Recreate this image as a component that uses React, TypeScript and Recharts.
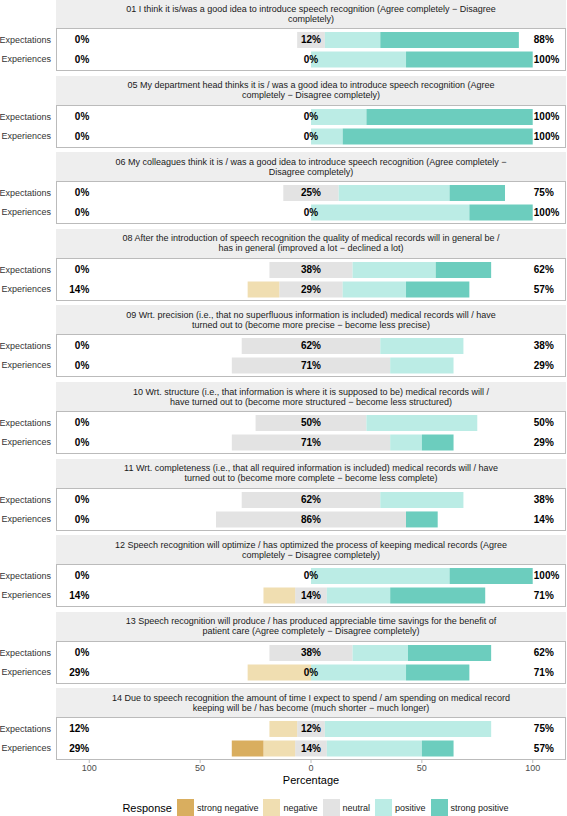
import React from 'react';
import { BarChart, Bar, XAxis, YAxis, CartesianGrid, ReferenceDot } from 'recharts';

const titleLine1 = [
  '01 I think it is/was a good idea to introduce speech recognition (Agree completely \u2212 Disagree',
  '05 My department head thinks it is / was a good idea to introduce speech recognition (Agree',
  '06 My colleagues think it is / was a good idea to introduce speech recognition (Agree completely \u2212',
  '08 After the introduction of speech recognition the quality of medical records will in general be /',
  '09 Wrt. precision (i.e., that no superfluous information is included) medical records will / have',
  '10 Wrt. structure (i.e., that information is where it is supposed to be) medical records will /',
  '11 Wrt. completeness (i.e., that all required information is included) medical records will / have',
  '12 Speech recognition will optimize / has optimized the process of keeping medical records (Agree',
  '13 Speech recognition will produce / has produced appreciable time savings for the benefit of',
  '14 Due to speech recognition the amount of time I expect to spend / am spending on medical record',
];
const titleLine2 = [
  'completely)',
  'completely \u2212 Disagree completely)',
  'Disagree completely)',
  'has in general (improved a lot \u2212 declined a lot)',
  'turned out to (become more precise \u2212 become less precise)',
  'have turned out to (become more structured \u2212 become less structured)',
  'turned out to (become more complete \u2212 become less complete)',
  'completely \u2212 Disagree completely)',
  'patient care (Agree completely \u2212 Disagree completely)',
  'keeping will be / has become (much shorter \u2212 much longer)',
];

const groups = ['Expectations', 'Experiences'];
const responses = ['strong negative', 'negative', 'neutral', 'positive', 'strong positive'];
const colors = ['#D9AE5F', '#F0DEB1', '#E3E3E3', '#BBECE5', '#6CCDBE'];
const xTicks = [-100, -50, 0, 50, 100];
const zeroLine = [0];

// Expectations (percent)
const expectStrongNeg = [0, 0, 0, 0, 0, 0, 0, 0, 0, 0];
const expectNeg = [0, 0, 0, 0, 0, 0, 0, 0, 0, 12.5];
const expectNeutral = [12.5, 0, 25, 37.5, 62.5, 50, 62.5, 0, 37.5, 12.5];
const expectPos = [25, 25, 50, 37.5, 37.5, 50, 37.5, 62.5, 25, 75];
const expectStrongPos = [62.5, 75, 25, 25, 0, 0, 0, 37.5, 37.5, 0];

// Experiences (percent)
const experStrongNeg = [0, 0, 0, 0, 0, 0, 0, 0, 0, 14.29];
const experNeg = [0, 0, 0, 14.29, 0, 0, 0, 14.29, 28.57, 14.29];
const experNeutral = [0, 0, 0, 28.57, 71.43, 71.43, 85.71, 14.29, 0, 14.29];
const experPos = [42.86, 14.29, 71.43, 28.57, 28.57, 14.29, 0, 28.57, 42.86, 42.86];
const experStrongPos = [57.14, 85.71, 28.57, 28.57, 0, 14.29, 14.29, 42.86, 28.57, 14.29];

const LOW_LABEL_AT = -100;
const MID_LABEL_AT = 0;
const HIGH_LABEL_AT = 100.5;

const FONT = '"Liberation Sans", Arial, Helvetica, sans-serif';
const STEP = 76.6;
const TOP0 = -1;
const STRIP_H = 29;
const PANEL_H = 43;
const PANEL_L = 56;
const PANEL_W = 510;
const AXIS_H = 20;
const PAD = 2;

function roundHalfEven(v: number): number {
  const r = Math.round(v * 1000) / 1000;
  const f = Math.floor(r);
  if (Math.abs(r - f - 0.5) < 1e-9) return f % 2 === 0 ? f : f + 1;
  return Math.round(r);
}
const pct = (v: number) => `${roundHalfEven(v)}%`;

function makeRow(group: string, sn: number, n: number, neu: number, p: number, sp: number) {
  return {
    group,
    neuLow: -neu / 2,
    neg: -n,
    strongNeg: -sn,
    neuHigh: neu / 2,
    pos: p,
    strongPos: sp,
    low: pct(sn + n),
    mid: pct(neu),
    high: pct(p + sp),
  };
}

function rowsFor(i: number) {
  return [
    makeRow(groups[0], expectStrongNeg[i], expectNeg[i], expectNeutral[i], expectPos[i], expectStrongPos[i]),
    makeRow(groups[1], experStrongNeg[i], experNeg[i], experNeutral[i], experPos[i], experStrongPos[i]),
  ];
}

const textShape = (text: string, anchor: 'start' | 'middle' | 'end') => (props: any) => (
  <text
    x={props.cx}
    y={props.cy}
    dy="0.35em"
    textAnchor={anchor}
    fontSize={10}
    fontWeight="bold"
    fontFamily={FONT}
    fill="#000"
  >
    {text}
  </text>
);

const zeroGenerator = (args: any) => {
  const ax = args && args.xAxis;
  if (!ax || typeof ax.scale !== 'function') return [];
  return zeroLine.map((v) => ax.scale(v));
};

function Facet({ index }: { index: number }) {
  const rows = rowsFor(index);
  const isLast = index === titleLine1.length - 1;
  const top = TOP0 + index * STEP;
  const bottomPad = isLast ? PAD : STEP - STRIP_H - PANEL_H + PAD;
  const chartH = isLast ? STRIP_H + PANEL_H + AXIS_H : STEP;
  return (
    <div style={{ position: 'absolute', left: 0, top, width: 567 }}>
      <div style={{ position: 'absolute', left: 0, top: 0 }}>
        <BarChart
          width={567}
          height={chartH}
          data={rows}
          layout="vertical"
          stackOffset="sign"
          barCategoryGap="10%"
          margin={{ top: 0, right: 1, bottom: 0, left: 0 }}
        >
          <CartesianGrid
            horizontal={false}
            vertical
            stroke="#1A1A1A"
            strokeWidth={1}
            verticalCoordinatesGenerator={zeroGenerator}
          />
          <XAxis
            type="number"
            domain={[-115, 115]}
            ticks={xTicks}
            allowDataOverflow
            hide={!isLast}
            height={AXIS_H}
            axisLine={false}
            tickSize={3}
            tickMargin={2}
            tickLine={{ stroke: '#BBBBBB' }}
            tick={{ fontSize: 9, fill: '#4D4D4D', fontFamily: FONT }}
            tickFormatter={(v: number) => String(Math.abs(v))}
          />
          <YAxis
            type="category"
            dataKey="group"
            width={PANEL_L}
            axisLine={false}
            tickLine={false}
            tickSize={0}
            tickMargin={5}
            padding={{ top: STRIP_H + PAD, bottom: bottomPad }}
            tick={{ fontSize: 9, fill: '#333333', fontFamily: FONT }}
          />
          <Bar dataKey="neuLow" stackId="s" fill={colors[2]} isAnimationActive={false} />
          <Bar dataKey="neg" stackId="s" fill={colors[1]} isAnimationActive={false} />
          <Bar dataKey="strongNeg" stackId="s" fill={colors[0]} isAnimationActive={false} />
          <Bar dataKey="neuHigh" stackId="s" fill={colors[2]} isAnimationActive={false} />
          <Bar dataKey="pos" stackId="s" fill={colors[3]} isAnimationActive={false} />
          <Bar dataKey="strongPos" stackId="s" fill={colors[4]} isAnimationActive={false} />
          {rows.map((r) => (
            <ReferenceDot key={r.group + 'l'} x={LOW_LABEL_AT} y={r.group} shape={textShape(r.low, 'end')} />
          ))}
          {rows.map((r) => (
            <ReferenceDot key={r.group + 'm'} x={MID_LABEL_AT} y={r.group} shape={textShape(r.mid, 'middle')} />
          ))}
          {rows.map((r) => (
            <ReferenceDot key={r.group + 'h'} x={HIGH_LABEL_AT} y={r.group} shape={textShape(r.high, 'start')} />
          ))}
        </BarChart>
      </div>
      <div
        style={{
          position: 'absolute',
          left: PANEL_L,
          top: 0,
          width: PANEL_W,
          height: STRIP_H,
          background: '#EEEEEE',
          fontSize: 9,
          lineHeight: '10px',
          color: '#1A1A1A',
          textAlign: 'center',
          boxSizing: 'border-box',
          paddingTop: 4.5,
          whiteSpace: 'nowrap',
        }}
      >
        <div>{titleLine1[index]}</div>
        <div>{titleLine2[index]}</div>
      </div>
      <div
        style={{
          position: 'absolute',
          left: PANEL_L,
          top: STRIP_H,
          width: PANEL_W,
          height: PANEL_H,
          border: '1px solid #BBBBBB',
          boxSizing: 'border-box',
          pointerEvents: 'none',
        }}
      />
    </div>
  );
}

export default function App() {
  return (
    <div
      style={{
        position: 'absolute',
        left: 0,
        top: 0,
        width: 567,
        height: 816,
        overflow: 'hidden',
        background: '#FFFFFF',
        fontFamily: FONT,
      }}
    >
      {titleLine1.map((_, i) => (
        <Facet key={i} index={i} />
      ))}
      <div
        style={{
          position: 'absolute',
          left: PANEL_L,
          width: PANEL_W,
          top: 773,
          textAlign: 'center',
          fontSize: 11,
          lineHeight: '14px',
          color: '#000',
        }}
      >
        Percentage
      </div>
      <div
        style={{
          position: 'absolute',
          left: 0,
          width: 567,
          top: 799,
          height: 17,
          display: 'flex',
          justifyContent: 'center',
          alignItems: 'center',
          paddingLeft: 64,
          boxSizing: 'border-box',
        }}
      >
        <span style={{ fontSize: 11, color: '#000', marginRight: 5 }}>Response</span>
        {responses.map((r, i) => (
          <span key={r} style={{ display: 'flex', alignItems: 'center', marginRight: i < responses.length - 1 ? 5 : 0 }}>
            <span style={{ display: 'inline-block', width: 17, height: 17, background: colors[i] }} />
            <span style={{ fontSize: 9, color: '#1A1A1A', marginLeft: 3 }}>{r}</span>
          </span>
        ))}
      </div>
    </div>
  );
}
